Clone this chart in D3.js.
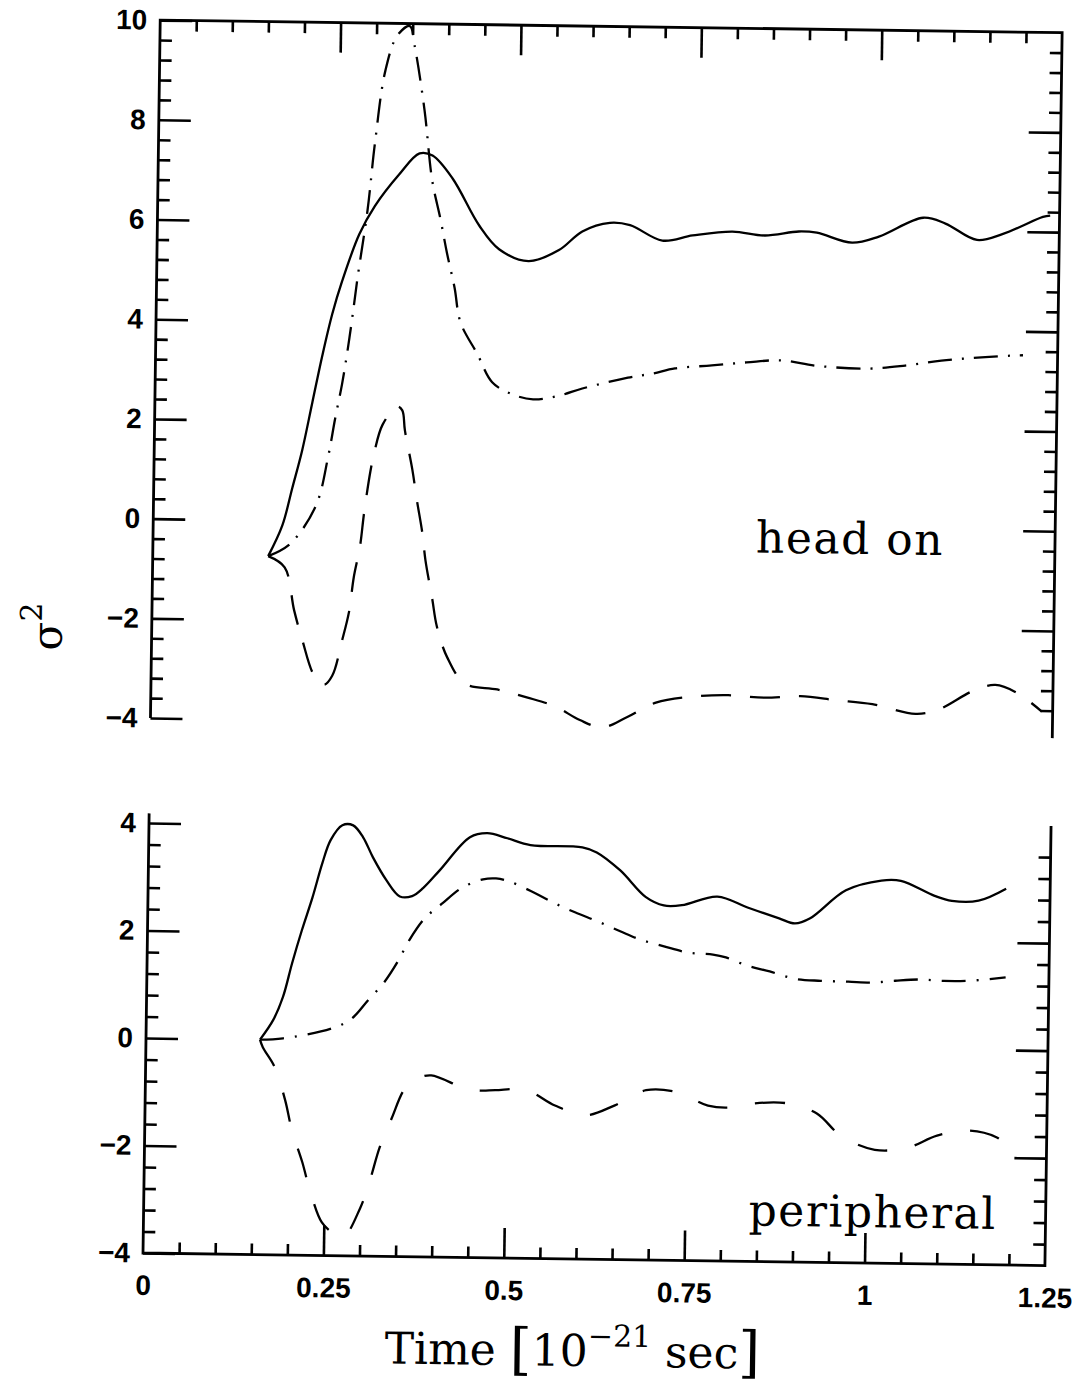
<!DOCTYPE html>
<html>
<head>
<meta charset="utf-8">
<script src="https://cdn.jsdelivr.net/npm/d3@7"></script>
<style>
  body { margin: 0; background: #fff; }
  .tick text { font-family: "Liberation Sans", Arial, sans-serif; font-weight: bold; font-size: 28px; fill: #000; }
  .tick line { stroke: #000; stroke-width: 2.6px; }
  .frame { fill: none; stroke: #000; stroke-width: 2.8px; }
  .curve { fill: none; stroke: #000; stroke-width: 2.3px; }
  .serif { font-family: "DejaVu Serif", serif; fill: #000; }
</style>
</head>
<body>
<div id="chart"></div>
<script>

// time axis, in 10^-21 sec
var timeTicks = [0, 0.25, 0.5, 0.75, 1, 1.25];
var headOnTicks = [-4, -2, 0, 2, 4, 6, 8, 10];
var peripheralTicks = [-4, -2, 0, 2, 4];

// head on: [time, sigma^2]
var headOnSolid = [[0.160,-0.72],[0.179,-0.10],[0.192,0.65],[0.205,1.41],[0.218,2.36],[0.231,3.31],[0.244,4.15],[0.257,4.81],[0.280,5.76],[0.301,6.33],[0.334,6.97],[0.362,7.40],[0.380,7.36],[0.408,6.91],[0.446,5.97],[0.474,5.50],[0.515,5.27],[0.557,5.50],[0.589,5.88],[0.627,6.06],[0.655,6.02],[0.700,5.72],[0.742,5.83],[0.797,5.92],[0.842,5.85],[0.889,5.94],[0.914,5.92],[0.963,5.73],[1.000,5.86],[1.061,6.25],[1.092,6.14],[1.136,5.82],[1.172,5.95],[1.227,6.30],[1.237,6.33]];
var headOnDashDot = [[0.160,-0.72],[0.190,-0.47],[0.225,0.30],[0.241,1.28],[0.250,2.05],[0.259,2.75],[0.266,3.43],[0.272,4.10],[0.278,4.84],[0.291,6.25],[0.300,7.60],[0.313,9.05],[0.329,9.76],[0.346,9.95],[0.353,9.56],[0.368,8.27],[0.380,6.86],[0.392,6.10],[0.402,5.40],[0.413,4.72],[0.422,4.02],[0.446,3.39],[0.467,2.83],[0.494,2.60],[0.524,2.50],[0.560,2.58],[0.592,2.73],[0.655,2.96],[0.689,3.05],[0.720,3.16],[0.771,3.23],[0.819,3.30],[0.867,3.35],[0.917,3.25],[0.989,3.21],[1.039,3.28],[1.089,3.39],[1.139,3.46],[1.187,3.51],[1.202,3.52]];
var headOnDashed = [[0.160,-0.72],[0.183,-0.94],[0.197,-1.80],[0.209,-2.40],[0.226,-3.10],[0.240,-3.28],[0.251,-3.10],[0.264,-2.39],[0.273,-1.82],[0.279,-1.12],[0.287,-0.50],[0.292,0.17],[0.300,1.01],[0.305,1.39],[0.316,1.95],[0.336,2.32],[0.343,2.24],[0.347,1.84],[0.358,1.06],[0.365,0.44],[0.373,-0.20],[0.378,-0.76],[0.388,-1.52],[0.395,-2.08],[0.410,-2.70],[0.435,-3.22],[0.480,-3.33],[0.521,-3.48],[0.560,-3.65],[0.595,-3.92],[0.626,-4.06],[0.660,-3.85],[0.700,-3.55],[0.750,-3.42],[0.800,-3.38],[0.850,-3.42],[0.900,-3.38],[0.950,-3.45],[1.000,-3.52],[1.060,-3.70],[1.090,-3.62],[1.140,-3.22],[1.170,-3.10],[1.200,-3.25],[1.235,-3.62]];

// peripheral: [time, sigma^2]
var peripheralSolid = [[0.158,0.00],[0.176,0.37],[0.189,0.80],[0.201,1.43],[0.214,2.05],[0.228,2.66],[0.241,3.30],[0.252,3.73],[0.268,4.01],[0.283,4.01],[0.297,3.79],[0.311,3.42],[0.330,3.00],[0.349,2.70],[0.366,2.71],[0.381,2.86],[0.404,3.20],[0.445,3.82],[0.469,3.90],[0.497,3.81],[0.529,3.69],[0.601,3.66],[0.621,3.57],[0.654,3.24],[0.690,2.75],[0.715,2.60],[0.740,2.61],[0.789,2.78],[0.832,2.58],[0.875,2.39],[0.897,2.30],[0.918,2.40],[0.967,2.93],[1.016,3.12],[1.043,3.12],[1.090,2.85],[1.114,2.76],[1.151,2.77],[1.189,3.00]];
var peripheralDashDot = [[0.158,0.00],[0.190,0.03],[0.258,0.23],[0.285,0.42],[0.307,0.76],[0.329,1.10],[0.347,1.48],[0.363,1.89],[0.384,2.30],[0.408,2.58],[0.434,2.87],[0.464,3.04],[0.482,3.06],[0.500,3.01],[0.531,2.83],[0.561,2.63],[0.592,2.45],[0.623,2.29],[0.655,2.11],[0.683,1.96],[0.716,1.84],[0.750,1.73],[0.784,1.70],[0.802,1.65],[0.830,1.51],[0.863,1.40],[0.898,1.27],[0.934,1.24],[0.972,1.23],[1.005,1.22],[1.037,1.26],[1.071,1.29],[1.104,1.27],[1.140,1.28],[1.190,1.35]];
var peripheralDashed = [[0.158,0.00],[0.162,-0.14],[0.179,-0.51],[0.194,-1.12],[0.204,-1.68],[0.219,-2.27],[0.230,-2.79],[0.247,-3.38],[0.261,-3.56],[0.277,-3.65],[0.300,-3.11],[0.313,-2.59],[0.326,-1.97],[0.342,-1.43],[0.360,-0.87],[0.378,-0.68],[0.396,-0.62],[0.442,-0.85],[0.464,-0.89],[0.485,-0.88],[0.528,-0.87],[0.568,-1.15],[0.611,-1.32],[0.651,-1.13],[0.694,-0.84],[0.737,-0.87],[0.780,-1.11],[0.810,-1.14],[0.842,-1.06],[0.891,-1.05],[0.931,-1.23],[0.965,-1.64],[1.012,-1.89],[1.058,-1.84],[1.098,-1.61],[1.143,-1.51],[1.181,-1.63],[1.190,-1.72]];

var svg = d3.select("#chart").append("svg")
  .attr("width", 1072)
  .attr("height", 1385);

// the scanned page is slightly turned
var root = svg.append("g").attr("transform", "rotate(0.8,143,1253)");

var x = d3.scaleLinear().domain([0, 1.25]).range([143, 1045]);
var yTop = d3.scaleLinear().domain([-4, 10]).range([718, 20]);
var yBot = d3.scaleLinear().domain([-4, 4]).range([1253, 823]);

var fmt = d3.format("~g");
var minorT = d3.range(1, 25).map(function (i) { return i * 0.05; }).filter(function (d, i) { return (i + 1) % 5 !== 0; });
function minorY(lo, hi) {
  var n = Math.round((hi - lo) / 0.4);
  return d3.range(1, n).filter(function (i) { return i % 5 !== 0; }).map(function (i) { return lo + i * 0.4; });
}
function noDomain(g) { g.select(".domain").remove(); }

function panel(y, yTicks, lo, hi, frame, timeLabels) {
  var g = root.append("g");

  g.append("path").attr("class", "frame").attr("d", frame);

  g.append("g").attr("transform", "translate(" + x(0) + ",0)")
    .call(d3.axisLeft(y).tickValues(yTicks).tickSize(-32).tickPadding(13).tickFormat(fmt))
    .call(noDomain);
  g.append("g").attr("transform", "translate(" + x(0) + ",0)")
    .call(d3.axisLeft(y).tickValues(minorY(lo, hi)).tickSize(-12).tickFormat(""))
    .call(noDomain);
  g.append("g").attr("transform", "translate(" + x(1.25) + ",0)")
    .call(d3.axisRight(y).tickValues(yTicks.slice(1, -1)).tickSize(-32).tickFormat(""))
    .call(noDomain);
  g.append("g").attr("transform", "translate(" + x(1.25) + ",0)")
    .call(d3.axisRight(y).tickValues(minorY(lo, hi)).tickSize(-12).tickFormat(""))
    .call(noDomain);

  var major = timeTicks.slice(1, -1);
  if (timeLabels) {
    g.append("g").attr("transform", "translate(0," + y(lo) + ")")
      .call(d3.axisBottom(x).tickValues(major).tickSize(-30).tickFormat(""))
      .call(noDomain);
    g.append("g").attr("transform", "translate(0," + y(lo) + ")")
      .call(d3.axisBottom(x).tickValues(minorT).tickSize(-11).tickFormat(""))
      .call(noDomain);
    g.append("g").attr("transform", "translate(0," + y(lo) + ")")
      .call(d3.axisBottom(x).tickValues(timeTicks).tickSize(0).tickPadding(22).tickFormat(fmt))
      .call(noDomain);
  } else {
    g.append("g").attr("transform", "translate(0," + y(hi) + ")")
      .call(d3.axisTop(x).tickValues(major).tickSize(-30).tickFormat(""))
      .call(noDomain);
    g.append("g").attr("transform", "translate(0," + y(hi) + ")")
      .call(d3.axisTop(x).tickValues(minorT).tickSize(-11).tickFormat(""))
      .call(noDomain);
  }
  return g;
}

var topFrame = "M" + x(0) + "," + yTop(-4) + "V" + yTop(10) + "H" + x(1.25) + "V" + yTop(-4.15);
var botFrame = "M" + x(0) + "," + yBot(4.18) + "V" + yBot(-4) + "H" + x(1.25) + "V" + yBot(4.18);

var gTop = panel(yTop, headOnTicks, -4, 10, topFrame, false);
var gBot = panel(yBot, peripheralTicks, -4, 4, botFrame, true);

function draw(g, y, data, dash) {
  var line = d3.line()
    .x(function (d) { return x(d[0]); })
    .y(function (d) { return y(d[1]); })
    .curve(d3.curveCatmullRom.alpha(0.5));
  g.append("path")
    .datum(data)
    .attr("class", "curve")
    .attr("stroke-dasharray", dash)
    .attr("d", line);
}

draw(gTop, yTop, headOnSolid, null);
draw(gTop, yTop, headOnDashDot, "24,10,2,10");
draw(gTop, yTop, headOnDashed, "30,19");

draw(gBot, yBot, peripheralSolid, null);
draw(gBot, yBot, peripheralDashDot, "24,11,2,11");
draw(gBot, yBot, peripheralDashed, "30,28");

root.append("text").attr("class", "serif")
  .attr("x", 746).attr("y", 544)
  .style("font-size", "44px").style("letter-spacing", "1.5px")
  .text("head on");

root.append("text").attr("class", "serif")
  .attr("x", 748).attr("y", 1217)
  .style("font-size", "44px").style("letter-spacing", "1.5px")
  .text("peripheral");

// y title: sigma squared
var yt = root.append("text").attr("class", "serif")
  .attr("transform", "translate(53,628) rotate(-90)")
  .attr("text-anchor", "middle")
  .style("font-size", "42px");
yt.append("tspan").text("σ");
yt.append("tspan").attr("dy", -20).style("font-size", "30px").text("2");

// x title
var xt = root.append("text").attr("class", "serif")
  .attr("x", 386).attr("y", 1360)
  .style("font-size", "44px");
xt.append("tspan").text("Time ");
xt.append("tspan").attr("dy", 3).style("font-size", "56px").text("[");
xt.append("tspan").attr("dy", -3).text("10");
xt.append("tspan").attr("dy", -20).style("font-size", "30px").text("−21");
xt.append("tspan").attr("dy", 20).text(" sec");
xt.append("tspan").attr("dy", 3).style("font-size", "56px").text("]");

</script>
</body>
</html>
